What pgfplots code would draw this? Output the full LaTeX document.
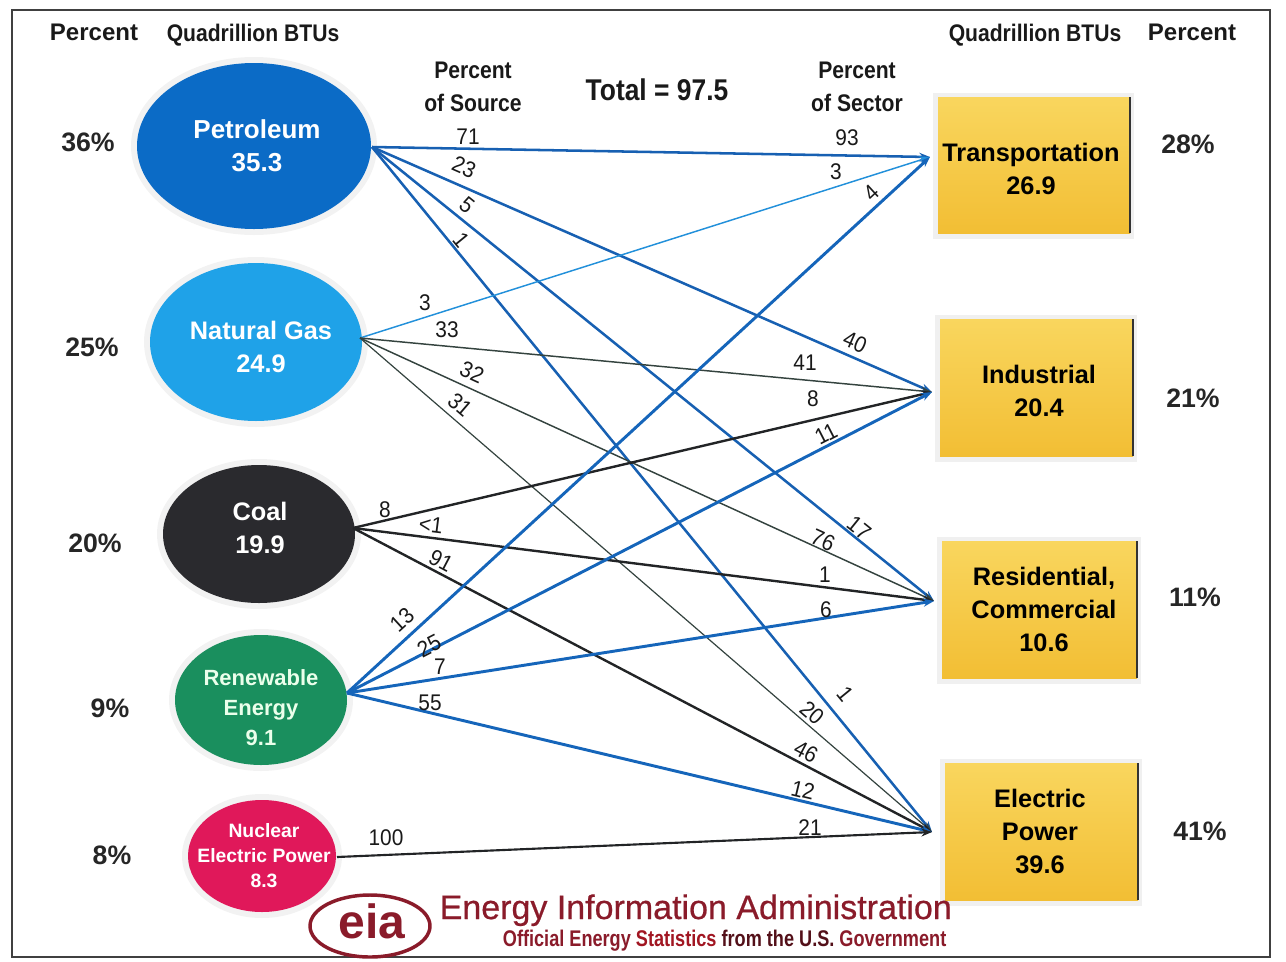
\documentclass[border=0pt]{standalone}
\usepackage{pgfplots}
\pgfplotsset{compat=1.18}
\usepackage{fontspec}
\setmainfont{Liberation Sans}
\newfontfamily\condb[FakeStretch=0.88]{Liberation Sans Bold}
\newfontfamily\condr[FakeStretch=0.92]{Liberation Sans}
\newfontfamily\condsub[FakeStretch=0.80]{Liberation Sans Bold}
\newfontfamily\eiafont[FakeBold=0.6]{Liberation Sans}
\usetikzlibrary{arrows.meta}

\definecolor{petro}{HTML}{0B6BC6}
\definecolor{petroline}{HTML}{1760B2}
\definecolor{gas}{HTML}{1FA2E8}
\definecolor{gasline}{HTML}{2290DA}
\definecolor{gasdark}{HTML}{34433F}
\definecolor{coal}{HTML}{2A2A2E}
\definecolor{coalline}{HTML}{222426}
\definecolor{renew}{HTML}{1A8F5E}
\definecolor{renewline}{HTML}{1565BA}
\definecolor{nuke}{HTML}{E0185A}
\definecolor{sectortop}{HTML}{F9D65E}
\definecolor{sectorbot}{HTML}{F2BE34}
\definecolor{eiared}{HTML}{8A1B2A}

\newcommand\fs[2]{\fontsize{#1}{#2}\selectfont}

% one flow: colour, width, source x, source y, target x, target y
\newcommand\flow[6]{%
  \addplot[#1, line width=#2, mark=none, -{Stealth[length=8pt,width=6pt]}]
    coordinates {(#3,#4) (#5,#6)};}

% energy source ellipse: centre, radii, fill colour
\newcommand\source[5]{%
  \fill[black!5] (#1,#2) ellipse [x radius=#3+6, y radius=#4+6];
  \fill[#5] (#1,#2) ellipse [x radius=#3, y radius=#4];}

% end-use sector box
\newcommand\sector[4]{%
  \fill[black!6] (#1-5,#2-4) rectangle (#3+4,#4+6);
  \shade[top color=sectortop, bottom color=sectorbot] (#1,#2) rectangle (#3,#4);
  \draw[black!80, line width=1.4pt] (#3,#2) -- (#3,#4);}

\tikzset{
  lab/.style={font=\condr\fs{17}{20}, text=black!90, inner sep=0pt},
  hdr/.style={font=\condb\fs{18}{24.5}, text=black!90, align=center, inner sep=0pt},
  pct/.style={font=\bfseries\fs{20}{24}, text=black!85, inner sep=0pt},
}

\begin{document}
\begin{tikzpicture}
\begin{axis}[
  scale only axis, width=964.5pt, height=720.75pt,
  xmin=0, xmax=1286, ymin=0, ymax=961, y dir=reverse,
  hide axis, clip=false]

% page extent
\path (0,0) rectangle (1286,961);

% frame
\draw[black!75, line width=1.1pt] (12,10) rectangle (1270,957);

% sources
\source{254}{146}{117}{83}{petro}
\source{256}{342}{106}{79}{gas}
\source{259}{534}{96}{69}{coal}
\source{261}{700}{86}{65}{renew}
\source{262}{856}{74}{56}{nuke}

% sectors
\sector{938}{97}{1130}{233}
\sector{940}{319}{1133}{456}
\sector{942}{541}{1137}{678}
\sector{945}{763}{1138}{900}

% flows: petroleum
\flow{petroline}{1.9pt}{372}{147}{930}{157}
\flow{petroline}{1.9pt}{372}{147}{932}{392}
\flow{petroline}{1.9pt}{372}{147}{934}{601}
\flow{petroline}{1.9pt}{372}{147}{932}{832}
% natural gas
\flow{gasline}{1.1pt}{360}{338}{930}{157}
\flow{gasdark}{1.1pt}{360}{338}{932}{392}
\flow{gasdark}{1.1pt}{360}{338}{934}{601}
\flow{gasdark}{0.9pt}{360}{338}{932}{832}
% coal
\flow{coalline}{1.8pt}{353}{528}{932}{392}
\flow{coalline}{1.8pt}{353}{528}{934}{601}
\flow{coalline}{1.8pt}{353}{528}{932}{832}
% renewable energy
\flow{renewline}{2.2pt}{347}{693}{930}{157}
\flow{renewline}{2.2pt}{347}{693}{932}{392}
\flow{renewline}{2.2pt}{347}{693}{934}{601}
\flow{renewline}{2.2pt}{347}{693}{932}{832}
% nuclear
\flow{coalline}{1.6pt}{337}{857}{932}{832}

% source names
\node[align=center, font=\bfseries\fs{19.5}{24.75}, text=white] at (257,146) {Petroleum\\35.3};
\node[align=center, font=\bfseries\fs{19}{24.75}, text=white] at (261,347) {Natural Gas\\24.9};
\node[align=center, font=\bfseries\fs{19}{24.75}, text=white] at (260,528) {Coal\\19.9};
\node[align=center, font=\bfseries\fs{16.5}{22.5}, text=green!8!white] at (261,708) {Renewable\\Energy\\9.1};
\node[align=center, font=\bfseries\fs{14.5}{19}, text=white] at (264,855.5) {Nuclear\\Electric Power\\8.3};

% sector names
\node[align=center, font=\bfseries\fs{19}{24.75}] at (1031,169) {Transportation\\26.9};
\node[align=center, font=\bfseries\fs{19}{24.75}] at (1039,391) {Industrial\\20.4};
\node[align=center, font=\bfseries\fs{19}{24.75}] at (1044,609) {Residential,\\Commercial\\10.6};
\node[align=center, font=\bfseries\fs{19}{24.75}] at (1040,831) {Electric\\Power\\39.6};

% headers
\node[font=\bfseries\fs{18}{22}, text=black!90] at (94,32) {Percent};
\node[hdr] at (253,35) {Quadrillion BTUs};
\node[hdr] at (1035,35) {Quadrillion BTUs};
\node[font=\bfseries\fs{18}{22}, text=black!90] at (1192,32) {Percent};
\node[hdr] at (473,87) {Percent\\of Source};
\node[hdr] at (857,87) {Percent\\of Sector};
\node[font=\condb\fs{22.5}{26}, text=black!90] at (657,90) {Total = 97.5};

% shares
\node[pct] at (88,142) {36\%};
\node[pct] at (92,347) {25\%};
\node[pct] at (95,543) {20\%};
\node[pct] at (110,708) {9\%};
\node[pct] at (112,855) {8\%};
\node[pct] at (1188,144) {28\%};
\node[pct] at (1193,398) {21\%};
\node[pct] at (1195,597) {11\%};
\node[pct] at (1200,831) {41\%};

% percent of source
\node[lab] at (468,137) {71};
\node[lab, rotate=-23.6] at (464,167) {23};
\node[lab, rotate=-38.9] at (467,205) {5};
\node[lab, rotate=-50.7] at (461,240) {1};
\node[lab] at (425,303) {3};
\node[lab] at (447,330) {33};
\node[lab, rotate=-24.6] at (472,372) {32};
\node[lab, rotate=-40.8] at (460,405) {31};
\node[lab] at (385,510) {8};
\node[lab, rotate=-7.2] at (431,525) {<1};
\node[lab, rotate=-27.7] at (441,561) {91};
\node[lab, rotate=42.6] at (402,620) {13};
\node[lab, rotate=27.2] at (429,646) {25};
\node[lab] at (440,667) {7};
\node[lab] at (430,703) {55};
\node[lab] at (386,838) {100};

% percent of sector
\node[lab] at (847,138) {93};
\node[lab] at (836,172) {3};
\node[lab, rotate=42.6] at (871,193) {4};
\node[lab, rotate=-23.6] at (855,342) {40};
\node[lab] at (805,363) {41};
\node[lab] at (813,399) {8};
\node[lab, rotate=27.2] at (826,434) {11};
\node[lab, rotate=-38.9] at (859,528) {17};
\node[lab, rotate=-24.6] at (823,540) {76};
\node[lab] at (825,575) {1};
\node[lab] at (826,610) {6};
\node[lab, rotate=-50.7] at (845,694) {1};
\node[lab, rotate=-40.8] at (812,713) {20};
\node[lab, rotate=-27.7] at (806,752) {46};
\node[lab, rotate=-13.4] at (803,790) {12};
\node[lab] at (810,828) {21};

% logo
\fill[white] (370,926) ellipse [x radius=60, y radius=31];
\draw[eiared, line width=2.6pt] (370,926) ellipse [x radius=60, y radius=31];
\node[font=\bfseries\fs{36}{38}, text=eiared] at (372,921) {eia};
\node[anchor=base west, font=\eiafont\fs{25.5}{28}, text=eiared] at (435,919) {Energy Information Administration};
\node[anchor=base east, font=\condsub\fs{17}{20}, text=eiared] at (951,946)
  {Official Energy {\color{eiared!80!red}Statistics} {\color{eiared!60!black}from the U.S.} Government};

\end{axis}
\end{tikzpicture}
\end{document}
